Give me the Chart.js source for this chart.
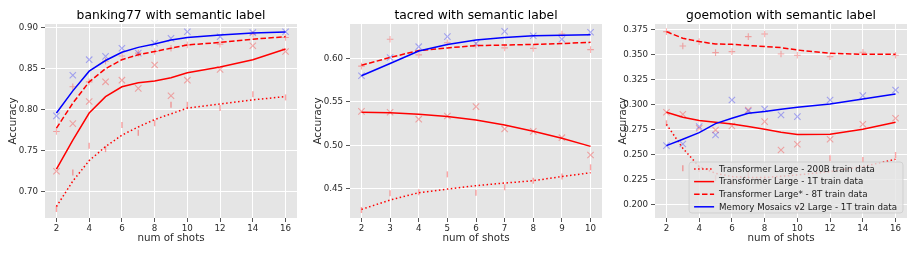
<!DOCTYPE html>
<html>
<head>
<meta charset="utf-8">
<script src="https://cdn.jsdelivr.net/npm/chart.js@4.4.1/dist/chart.umd.min.js"></script>
<style>
    body { margin: 0; background: #fff; width: 917px; height: 255px; overflow: hidden; position: relative; }
    .panel { position: absolute; top: 0; width: 305px; height: 255px; }
</style>
</head>
<body>
<div class="panel" style="left:0"><canvas id="bank" width="305" height="255"></canvas></div>
<div class="panel" style="left:305px"><canvas id="tacred" width="305" height="255"></canvas></div>
<div class="panel" style="left:610px"><canvas id="goemo" width="305" height="255"></canvas></div>
<script>
const seriesLabels = [
    'Transformer Large - 200B train data',
    'Transformer Large - 1T train data',
    'Transformer Large* - 8T train data',
    'Memory Mosaics v2 Large - 1T train data'
]

// banking77
const bankShots = [2, 3, 4, 5, 6, 7, 8, 9, 10, 12, 14, 16]
const bank200B = [0.679, 0.7235, 0.756, 0.752, 0.7815, 0.772, 0.7835, 0.806, 0.806, 0.802, 0.819, 0.815]
const bank200BFit = [0.682, 0.713, 0.738, 0.755, 0.769, 0.779, 0.788, 0.795, 0.802, 0.807, 0.812, 0.816]
const bank1T = [0.725, 0.783, 0.810, 0.834, 0.836, 0.826, 0.8545, 0.817, 0.836, 0.849, 0.878, 0.871]
const bank1TFit = [0.7276, 0.763, 0.796, 0.816, 0.828, 0.833, 0.835, 0.839, 0.845, 0.852, 0.861, 0.874]
const bank8T = [0.7735, 0.828, 0.834, 0.859, 0.8655, 0.869, 0.871, 0.875, 0.879, 0.880, 0.892, 0.888]
const bank8TFit = [0.7775, 0.808, 0.834, 0.850, 0.861, 0.867, 0.871, 0.875, 0.879, 0.882, 0.886, 0.889]
const bankMM = [0.7925, 0.842, 0.861, 0.865, 0.875, 0.869, 0.881, 0.887, 0.895, 0.889, 0.894, 0.895]
const bankMMFit = [0.796, 0.823, 0.847, 0.860, 0.870, 0.876, 0.880, 0.885, 0.888, 0.891, 0.8935, 0.8947]
const bankTicksX = [2, 4, 6, 8, 10, 12, 14, 16]
const bankTicksY = [0.70, 0.75, 0.80, 0.85, 0.90]

// tacred
const tacShots = [2, 3, 4, 5, 6, 7, 8, 9, 10]
const tac200B = [0.4255, 0.4447, 0.4458, 0.4665, 0.4454, 0.4516, 0.4592, 0.464, 0.4746]
const tac200BFit = [0.4262, 0.437, 0.4454, 0.4496, 0.4535, 0.4565, 0.4592, 0.464, 0.4684]
const tac1T = [0.539, 0.538, 0.530, 0.5336, 0.5444, 0.5187, 0.516, 0.5087, 0.4888]
const tac1TFit = [0.538, 0.5375, 0.5356, 0.533, 0.529, 0.5233, 0.516, 0.508, 0.4987]
const tac8T = [0.591, 0.622, 0.604, 0.618, 0.615, 0.612, 0.6115, 0.628, 0.610]
const tac8TFit = [0.592, 0.601, 0.609, 0.612, 0.6146, 0.6153, 0.616, 0.617, 0.6184]
const tacMM = [0.580, 0.601, 0.6134, 0.625, 0.617, 0.631, 0.626, 0.622, 0.630]
const tacMMFit = [0.580, 0.594, 0.6084, 0.616, 0.621, 0.624, 0.626, 0.6265, 0.627]
const tacTicksX = [2, 3, 4, 5, 6, 7, 8, 9, 10]
const tacTicksY = [0.45, 0.50, 0.55, 0.60]

// goemotion
const goShots = [2, 3, 4, 5, 6, 7, 8, 9, 10, 12, 14, 16]
const go200B = [0.281, 0.236, 0.2353, 0.226, 0.222, 0.230, 0.226, 0.223, 0.196, 0.246, 0.2443, 0.2493]
const go200BFit = [0.280, 0.256, 0.2377, 0.231, 0.2277, 0.2268, 0.2268, 0.228, 0.2293, 0.2327, 0.2377, 0.245]
const go1T = [0.292, 0.290, 0.276, 0.2743, 0.2783, 0.2943, 0.2827, 0.2543, 0.260, 0.265, 0.280, 0.286]
const go1TFit = [0.292, 0.287, 0.2837, 0.282, 0.2803, 0.2777, 0.275, 0.272, 0.2697, 0.270, 0.275, 0.282]
const go8T = [0.3727, 0.3583, 0.3627, 0.3517, 0.3527, 0.3677, 0.3703, 0.3503, 0.349, 0.3477, 0.352, 0.349]
const go8TFit = [0.3727, 0.366, 0.3627, 0.3603, 0.360, 0.3588, 0.3577, 0.3567, 0.3543, 0.351, 0.350, 0.350]
const goMM = [0.2587, 0.2603, 0.2777, 0.2693, 0.3043, 0.2933, 0.2953, 0.2893, 0.2877, 0.3043, 0.3087, 0.3143]
const goMMFit = [0.2587, 0.265, 0.2717, 0.2807, 0.286, 0.291, 0.2927, 0.295, 0.297, 0.3003, 0.3053, 0.3103]
const goTicksX = [2, 4, 6, 8, 10, 12, 14, 16]
const goTicksY = [0.200, 0.225, 0.250, 0.275, 0.300, 0.325, 0.350, 0.375]

const seriesStyle = [
    { color: '#ff0000', dash: [1.5, 2.5], marker: 'line', rotation: 90, radius: 3, markerWidth: 1.4, markerColor: 'rgba(255,0,0,0.35)' },
    { color: '#ff0000', dash: [], marker: 'crossRot', rotation: 0, radius: 4.5, markerWidth: 1.1, markerColor: 'rgba(255,0,0,0.3)' },
    { color: '#ff0000', dash: [5.5, 2.4], marker: 'cross', rotation: 0, radius: 3.3, markerWidth: 1.1, markerColor: 'rgba(255,0,0,0.3)' },
    { color: '#0000ff', dash: [], marker: 'crossRot', rotation: 0, radius: 4.5, markerWidth: 1.1, markerColor: 'rgba(0,0,255,0.3)' }
]

const FONT = '"DejaVu Sans"'
const TEXT_COLOR = '#2a2a2a'

renderPanel('bank', {
    title: 'banking77 with semantic label',
    shots: bankShots,
    points: [bank200B, bank1T, bank8T, bankMM],
    fits: [bank200BFit, bank1TFit, bank8TFit, bankMMFit],
    ticksX: bankTicksX, ticksY: bankTicksY, decimals: 2,
    xRange: [1.3, 16.7], yRange: [0.668, 0.9045]
})
renderPanel('tacred', {
    title: 'tacred with semantic label',
    shots: tacShots,
    points: [tac200B, tac1T, tac8T, tacMM],
    fits: [tac200BFit, tac1TFit, tac8TFit, tacMMFit],
    ticksX: tacTicksX, ticksY: tacTicksY, decimals: 2,
    xRange: [1.6, 10.4], yRange: [0.4163, 0.6395]
})
renderPanel('goemo', {
    title: 'goemotion with semantic label',
    shots: goShots,
    points: [go200B, go1T, go8T, goMM],
    fits: [go200BFit, go1TFit, go8TFit, goMMFit],
    ticksX: goTicksX, ticksY: goTicksY, decimals: 3,
    xRange: [1.3, 16.7], yRange: [0.1863, 0.3803],
    legend: true
})

function toXY(xs, ys) {
    return xs.map((x, i) => ({ x: x, y: ys[i] }))
}

function renderPanel(id, cfg) {
    const datasets = []
    cfg.fits.forEach((fit, i) => {
        const st = seriesStyle[i]
        datasets.push({
            label: seriesLabels[i],
            data: toXY(cfg.shots, fit),
            showLine: true,
            borderColor: st.color,
            borderWidth: 1.5,
            borderDash: st.dash,
            pointRadius: 0,
            order: 3 - i
        })
    })
    cfg.points.forEach((pts, i) => {
        const st = seriesStyle[i]
        datasets.push({
            data: toXY(cfg.shots, pts),
            showLine: false,
            pointStyle: st.marker,
            rotation: st.rotation,
            pointRadius: st.radius,
            borderColor: st.markerColor,
            backgroundColor: st.markerColor,
            pointBorderWidth: st.markerWidth,
            order: 10 + 3 - i
        })
    })

    const panelPlugin = {
        id: 'panel',
        beforeDraw(chart) {
            const { ctx, chartArea } = chart
            ctx.save()
            ctx.fillStyle = '#e5e5e5'
            ctx.fillRect(chartArea.left, chartArea.top, chartArea.right - chartArea.left, chartArea.bottom - chartArea.top)
            ctx.restore()
        },
        afterDatasetsDraw(chart) {
            if (cfg.legend) drawLegend(chart)
        },
        afterDraw(chart) {
            const { ctx, chartArea } = chart
            ctx.save()
            ctx.font = '12.3px ' + FONT
            ctx.fillStyle = '#000'
            ctx.textAlign = 'center'
            ctx.textBaseline = 'alphabetic'
            ctx.fillText(cfg.title, (chartArea.left + chartArea.right) / 2, 18.5)
            ctx.restore()
        }
    }

    const tickFont = { family: FONT, size: 8.7 }
    const titleFont = { family: FONT, size: 10.3 }

    new Chart(document.getElementById(id), {
        type: 'scatter',
        data: { datasets: datasets },
        options: {
            responsive: false,
            animation: false,
            events: [],
            layout: { padding: { top: 24, right: 8, left: 0, bottom: 0 } },
            plugins: {
                legend: { display: false },
                tooltip: { enabled: false },
                title: { display: false }
            },
            scales: {
                x: {
                    type: 'linear',
                    min: cfg.xRange[0],
                    max: cfg.xRange[1],
                    afterBuildTicks: axis => { axis.ticks = cfg.ticksX.map(v => ({ value: v })) },
                    afterFit: axis => { axis.height = 37 },
                    ticks: { font: tickFont, color: TEXT_COLOR, padding: 2, maxRotation: 0, callback: v => String(v) },
                    grid: { color: '#ffffff', lineWidth: 1, tickColor: '#555', tickLength: 4 },
                    border: { display: false },
                    title: { display: true, text: 'num of shots', font: titleFont, color: TEXT_COLOR, padding: { top: 0, bottom: 10 } }
                },
                y: {
                    type: 'linear',
                    min: cfg.yRange[0],
                    max: cfg.yRange[1],
                    afterBuildTicks: axis => { axis.ticks = cfg.ticksY.map(v => ({ value: v })) },
                    afterFit: axis => { axis.width = 45 },
                    ticks: { font: tickFont, color: TEXT_COLOR, padding: 3, callback: v => v.toFixed(cfg.decimals) },
                    grid: { color: '#ffffff', lineWidth: 1, tickColor: '#555', tickLength: 4 },
                    border: { display: false },
                    title: { display: true, text: 'Accuracy', font: titleFont, color: TEXT_COLOR, padding: { top: 7, bottom: 0 } }
                }
            }
        },
        plugins: [panelPlugin]
    })
}

function drawLegend(chart) {
    const { ctx, chartArea } = chart
    ctx.save()
    ctx.font = '8.7px ' + FONT
    const textW = Math.max(...seriesLabels.map(t => ctx.measureText(t).width))
    const w = 30 + textW + 6
    const h = 51
    const x0 = chartArea.right - 4 - w
    const y0 = chartArea.bottom - 5 - h

    ctx.beginPath()
    ctx.roundRect(x0, y0, w, h, 3)
    ctx.fillStyle = 'rgba(229,229,229,0.8)'
    ctx.fill()
    ctx.strokeStyle = 'rgba(204,204,204,0.8)'
    ctx.lineWidth = 1
    ctx.stroke()

    seriesLabels.forEach((label, i) => {
        const st = seriesStyle[i]
        const y = y0 + 7 + i * 12.6
        ctx.beginPath()
        ctx.setLineDash(st.dash)
        ctx.strokeStyle = st.color
        ctx.lineWidth = 1.5
        ctx.moveTo(x0 + 5, y)
        ctx.lineTo(x0 + 25, y)
        ctx.stroke()
        ctx.setLineDash([])
        ctx.fillStyle = '#1a1a1a'
        ctx.textAlign = 'left'
        ctx.textBaseline = 'middle'
        ctx.fillText(label, x0 + 30, y + 0.5)
    })
    ctx.restore()
}
</script>
</body>
</html>
